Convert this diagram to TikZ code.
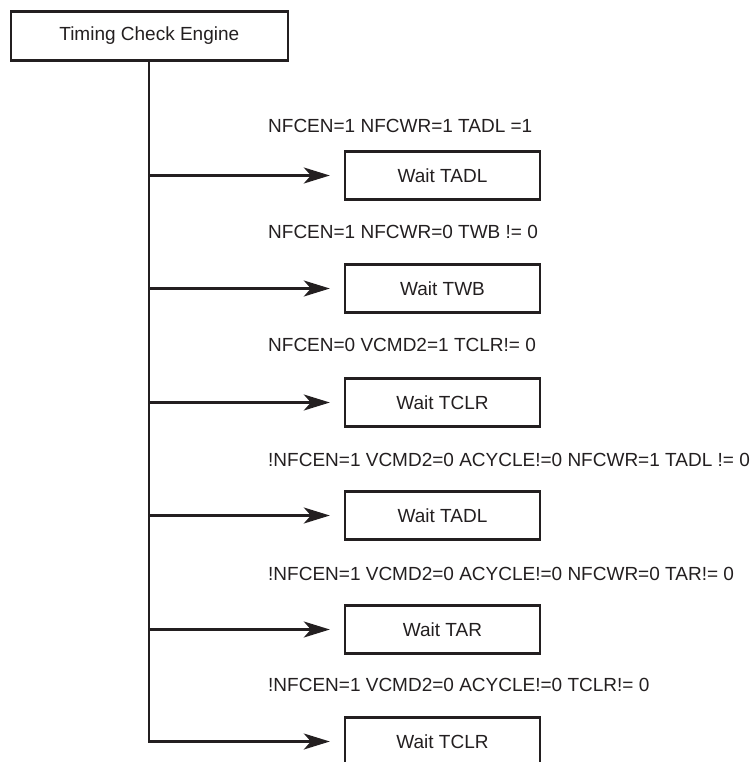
\documentclass[tikz,border=0pt]{standalone}
\usepackage{fontspec}
\setmainfont{Liberation Sans}
\usepackage{tikz}
\usetikzlibrary{
  arrows.meta,
  positioning
}
\definecolor{InkBlack}{RGB}{35, 31, 32}
\tikzset{
    waitbox/.style={rectangle, draw=InkBlack, line width=2.4pt, minimum width=195pt, minimum height=48pt, inner sep=0pt, text=InkBlack, font=\fontsize{19}{23}\selectfont},
    condlabel/.style={anchor=west, inner sep=0pt, text=InkBlack, font=\fontsize{19}{23}\selectfont},
    branch/.style={draw=InkBlack, line width=2.2pt, -{Stealth[length=26pt, width=16pt, inset=7pt]}, shorten >=14pt}
}

\begin{document}
\begin{tikzpicture}[x=1pt, y=-1pt]
                \useasboundingbox (0,0) rectangle (751,762);
                % engine and its states
                \node[waitbox, minimum width=277pt, minimum height=49pt] (engine) at (149.3,36) {Timing Check Engine};
                \node[waitbox] (tadlA) at (442.5,175.5) {Wait TADL};
                \node[waitbox] (twb) at (442.5,288.5) {Wait TWB};
                \node[waitbox] (tclrA) at (442.5,402.5) {Wait TCLR};
                \node[waitbox] (tadlB) at (442.5,515.5) {Wait TADL};
                \node[waitbox] (tar) at (442.5,629.5) {Wait TAR};
                \node[waitbox] (tclrB) at (442.5,741.5) {Wait TCLR};
                % conditions
                \node[condlabel] (condA) at (268,126) {NFCEN=1 NFCWR=1 TADL =1};
                \node[condlabel] (condB) at (268,231.5) {NFCEN=1 NFCWR=0 TWB != 0};
                \node[condlabel] (condC) at (268,344.6) {NFCEN=0 VCMD2=1 TCLR!= 0};
                \node[condlabel] (condD) at (268,460) {!NFCEN=1 VCMD2=0 ACYCLE!=0 NFCWR=1 TADL != 0};
                \node[condlabel] (condE) at (268,573.7) {!NFCEN=1 VCMD2=0 ACYCLE!=0 NFCWR=0 TAR!= 0};
                \node[condlabel] (condF) at (268,685.4) {!NFCEN=1 VCMD2=0 ACYCLE!=0 TCLR!= 0};
                % trunk and branches
                \draw[draw=InkBlack, line width=2.2pt] (engine.south) -- ([yshift=1.1pt]engine.south |- tclrB.west);
                \draw[branch] (engine.south |- tadlA.west) -- (tadlA.west);
                \draw[branch] (engine.south |- twb.west) -- (twb.west);
                \draw[branch] (engine.south |- tclrA.west) -- (tclrA.west);
                \draw[branch] (engine.south |- tadlB.west) -- (tadlB.west);
                \draw[branch] (engine.south |- tar.west) -- (tar.west);
                \draw[branch] ([xshift=-1.1pt]engine.south |- tclrB.west) -- (tclrB.west);
            \end{tikzpicture}
\end{document}
